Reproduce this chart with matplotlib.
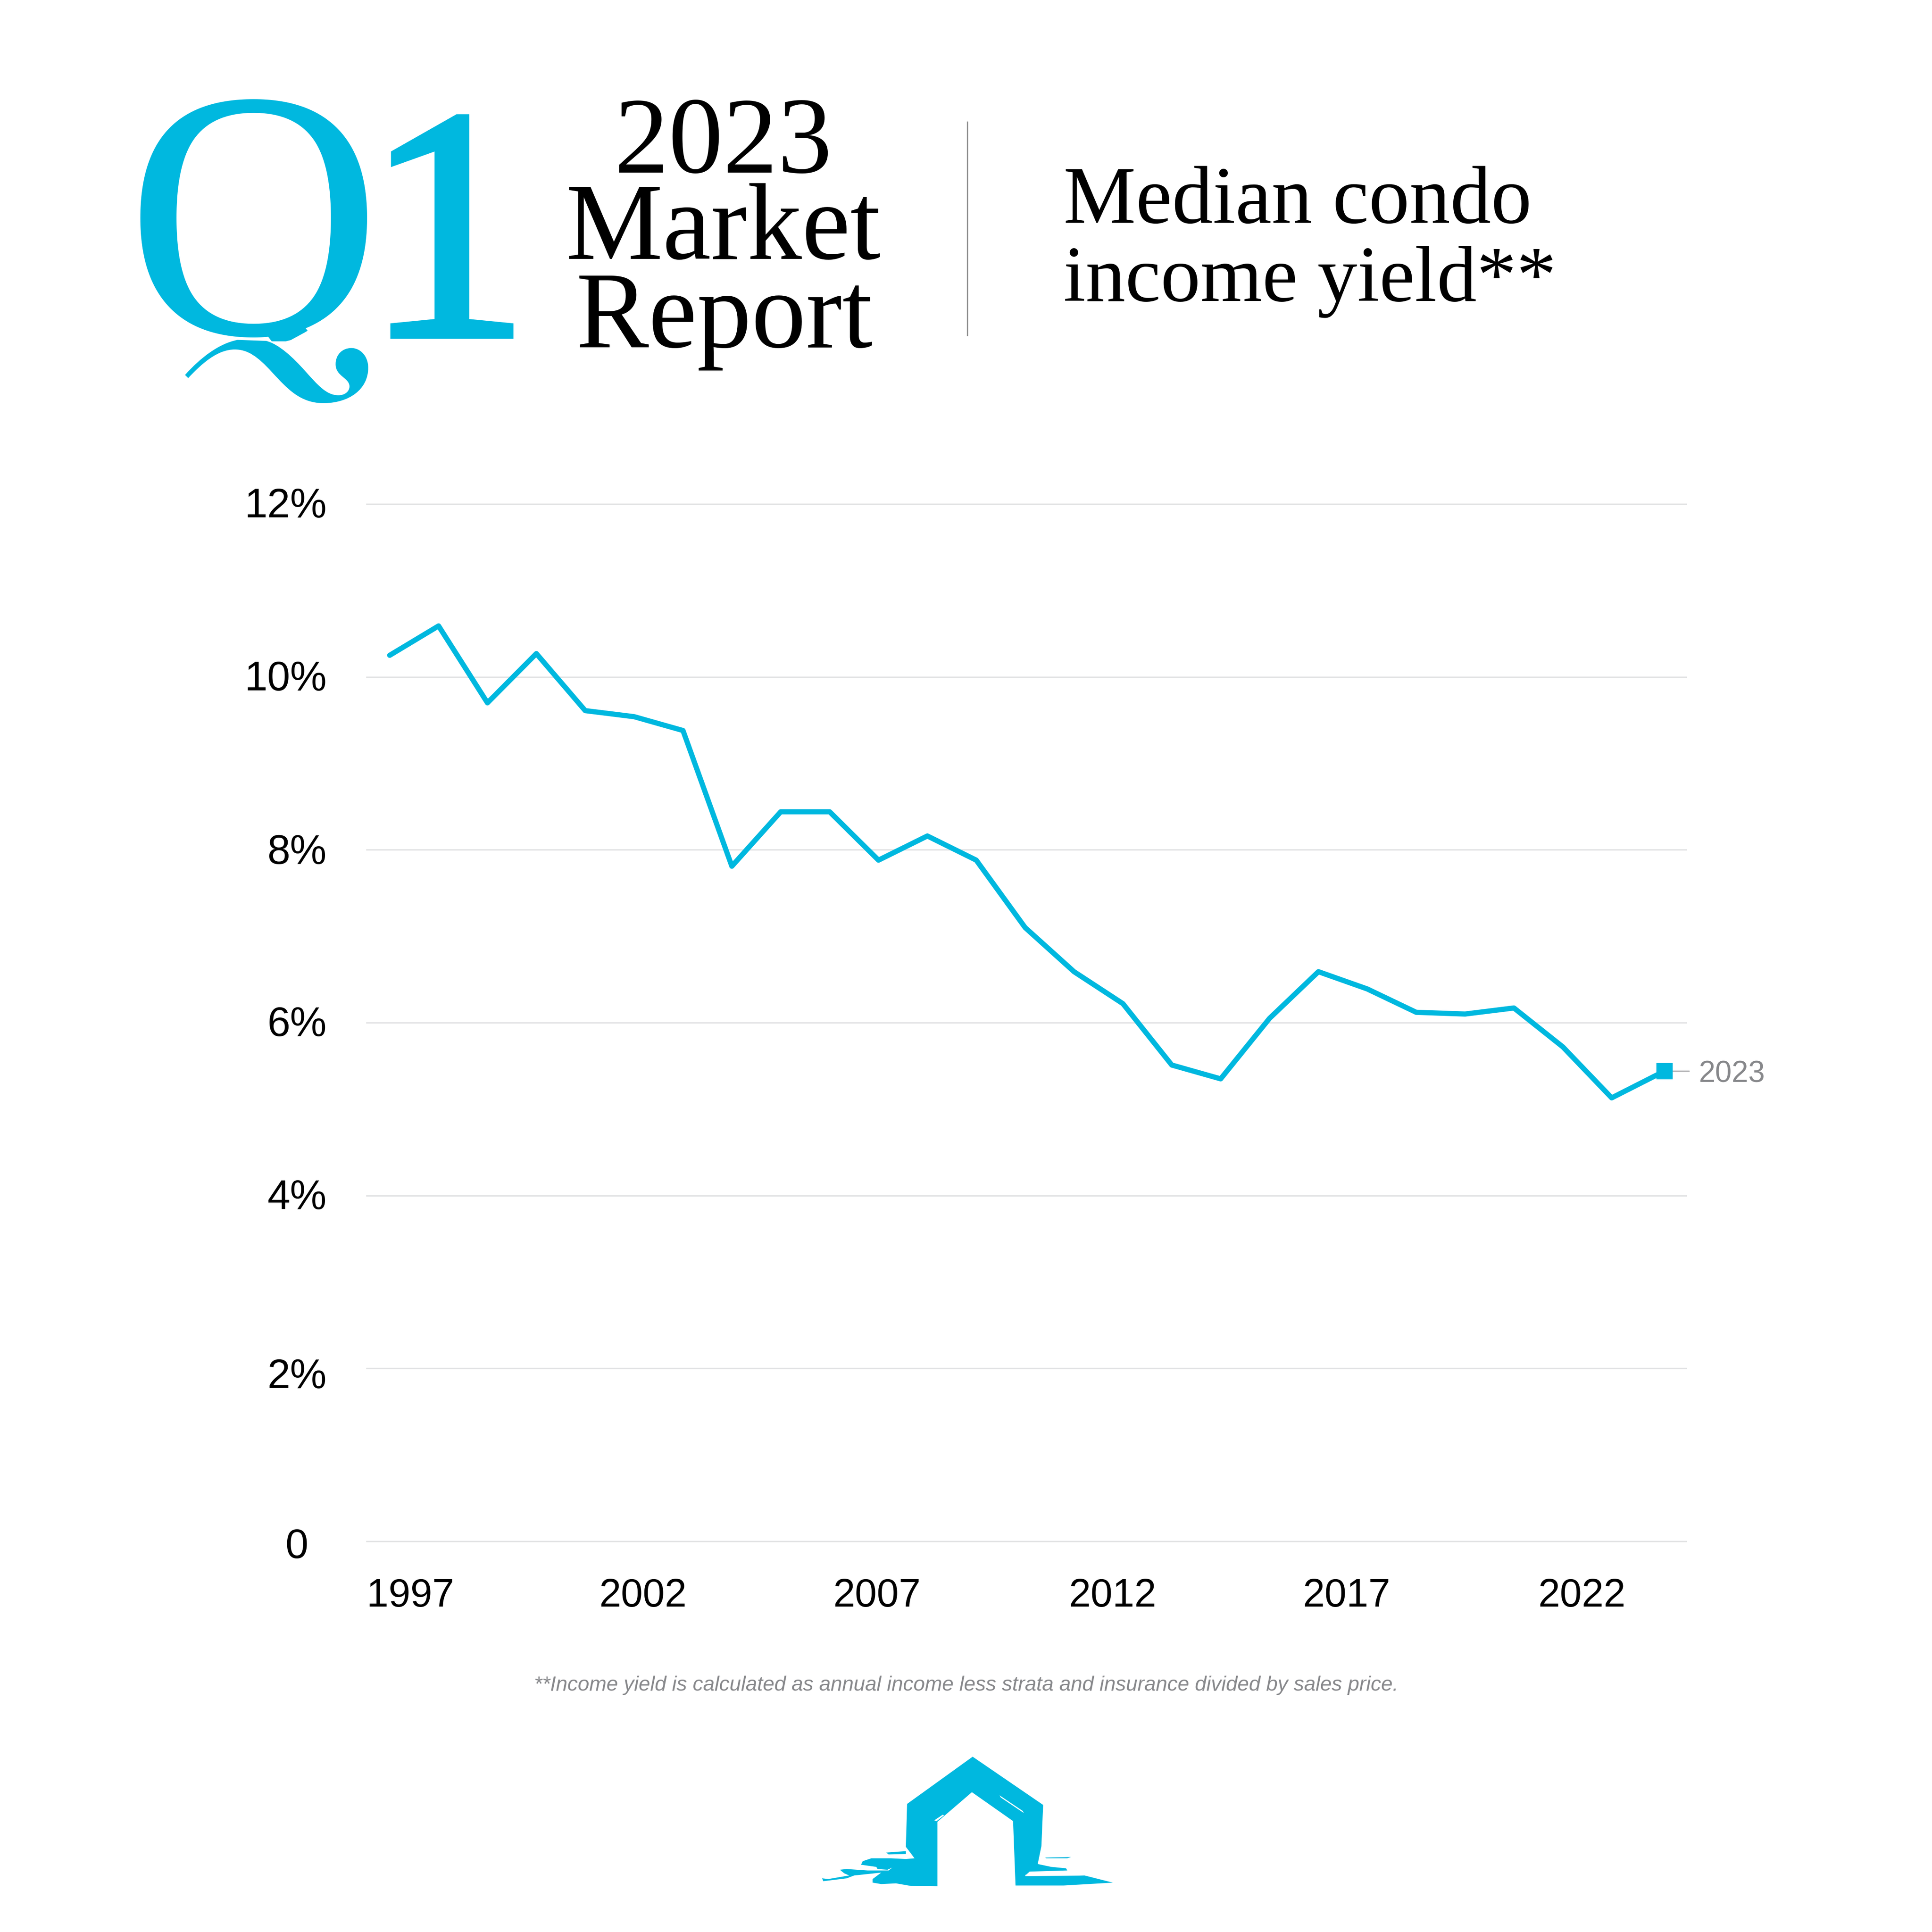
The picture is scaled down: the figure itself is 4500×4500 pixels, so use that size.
import numpy as np
import matplotlib
matplotlib.use("Agg")
import matplotlib.pyplot as plt
import matplotlib.patheffects as pe
from matplotlib.path import Path
from matplotlib.patches import PathPatch, Polygon
from matplotlib.transforms import Bbox, ScaledTranslation

years = list(range(1997, 2024))
income_yield = [10.25, 10.59, 9.70, 10.27, 9.61, 9.54, 9.38, 7.81, 8.44, 8.44,
                7.88, 8.16, 7.88, 7.10, 6.59, 6.22, 5.51, 5.35, 6.05, 6.59,
                6.39, 6.12, 6.10, 6.17, 5.72, 5.13, 5.44]
y_ticks = [0, 2, 4, 6, 8, 10, 12]
y_labels = ["0", "2%", "4%", "6%", "8%", "10%", "12%"]
x_tick_labels = ["1997", "2002", "2007", "2012", "2017", "2022"]
# the labels in the original do not sit quite under their years
x_tick_pos = [0.42, 5.18, 9.97, 14.79, 19.58, 24.39]

CYAN = "#00b8df"
GREY = "#87888b"
SANS = "Liberation Sans"
SERIF = "Liberation Serif"
S = 4500 / 1568  # layout is noted on a 1568 px wide view of the page

fig = plt.figure(figsize=(15, 15), dpi=300, facecolor="white")


def px(x0, y0, x1, y1):
    return [x0 / 4500, 1 - y1 / 4500, (x1 - x0) / 4500, (y1 - y0) / 4500]


# chart
ax = fig.add_axes(px(853.6, 1174, 3927, 3590))
x = np.arange(len(years), dtype=float)
x[-1] += 0.08  # end point sits a little right of the even spacing
ax.plot(x, income_yield, color=CYAN, lw=2.9, solid_joinstyle="round", solid_capstyle="round",
        zorder=3, clip_on=False)
ax.plot(x[-1], income_yield[-1], "s", color=CYAN, ms=9, mew=0, zorder=4, clip_on=False)
ax.set_xlim(-0.475, 26.52)
ax.set_ylim(0, 12)
ax.set_yticks(y_ticks)
ax.set_yticklabels(y_labels, fontsize=23, family=SANS, color="black")
ax.set_xticks(x_tick_pos)
ax.set_xticklabels(x_tick_labels, fontsize=22, family=SANS, color="black")
ax.tick_params(length=0)
ax.tick_params(axis="x", pad=20.5)
ax.tick_params(axis="y", pad=22.2)
for s in ax.spines.values():
    s.set_visible(False)
for v in y_ticks:
    ax.axhline(v, color="#e2e3e4", lw=0.8, zorder=1, clip_on=False)

# "0" sits further left, and a few labels are slightly off their gridlines
shifts = {0: (-10.5, -1), 2: (0, -2.5), 4: (0, 1), 6: (0, 1), 8: (0, 0.5), 10: (0, 1), 12: (0, 1)}
for i, v in enumerate(y_ticks):
    lab = ax.yaxis.get_major_ticks()[i].label1
    dx, dy = shifts[v]
    lab.set_transform(lab.get_transform() + ScaledTranslation(dx / 72, dy / 72, fig.dpi_scale_trans))

ax.annotate("2023", xy=(x[-1], income_yield[-1]), xytext=(19.0, -6.1), textcoords="offset points",
            ha="left", va="baseline", fontsize=16.7, family=SANS, color=GREY, annotation_clip=False)
ax.annotate("", xy=(x[-1], income_yield[-1]), xytext=(13.9, 0), textcoords="offset points",
            arrowprops=dict(arrowstyle="-", color=GREY, lw=0.5, shrinkA=0, shrinkB=0),
            annotation_clip=False, zorder=2)

# page furniture, drawn in view px
page = fig.add_axes([0, 0, 1, 1], zorder=5)
page.set_xlim(0, 1568)
page.set_ylim(1568, 0)
page.axis("off")
page.patch.set_alpha(0)

qt = page.text(205.6, 271, "Q", fontsize=198, family=SERIF, color=CYAN, ha="center", va="baseline")
qt.set_clip_on(True)
qt.set_clip_box(Bbox([[0, 4500 - 795], [4500, 4500]]))  # the font's own tail goes, see swash below
one = page.text(363, 272, "1", fontsize=184, family=SERIF, color=CYAN, ha="center", va="baseline")
one.set_path_effects([pe.withStroke(linewidth=4, foreground=CYAN, joinstyle="miter")])

# hide what is left of the font's tail
page.add_patch(Polygon([(224, 279), (236, 276), (247, 270), (258, 263.5), (266, 282), (224, 282)],
                       fc="white", ec="none", zorder=3))

tail_pts = [(93, 820),
            (200, 700), (330, 600), (460, 575),
            (660, 582),
            (750, 605), (850, 700), (930, 790),
            (1020, 890), (1080, 962), (1165, 962),
            (1210, 962), (1242, 935), (1242, 900),
            (1242, 840), (1145, 830), (1145, 745),
            (1145, 680), (1190, 632), (1255, 632),
            (1320, 632), (1373, 690), (1373, 770),
            (1373, 920), (1240, 1017), (1060, 1017),
            (900, 1017), (810, 920), (700, 800),
            (600, 690), (530, 642), (440, 642),
            (320, 642), (210, 740), (115, 842),
            (93, 820)]
tail_codes = ([Path.MOVETO] + [Path.CURVE4] * 3 + [Path.LINETO] + [Path.CURVE4] * 30 + [Path.CLOSEPOLY])
tail = Path([((400 + a / 3) / S, (600 + b / 3) / S) for a, b in tail_pts], tail_codes)
page.add_patch(PathPatch(tail, fc=CYAN, ec="none", zorder=4))

page.text(587, 140, "2023", fontsize=61, family=SERIF, color="black", ha="center", va="baseline")
page.text(587, 210, "Market", fontsize=61, family=SERIF, color="black", ha="center", va="baseline")
page.text(588, 282, "Report", fontsize=61, family=SERIF, color="black", ha="center", va="baseline")
page.plot([785, 785], [99, 272], color="#8f8f8f", lw=0.7)
page.text(863, 181, "Median condo", fontsize=45.5, family=SERIF, color="black", ha="left", va="baseline")
page.text(863, 244, "income yield**", fontsize=44.5, family=SERIF, color="black", ha="left", va="baseline")

page.text(784, 1372, "**Income yield is calculated as annual income less strata and insurance divided by sales price.",
          fontsize=11.55, family=SANS, style="italic", color=GREY, ha="center", va="baseline")

logo_main = [(811, 275), (1097, 612), (1090, 900), (1075, 1025), (1130, 1045), (1190, 1055), (1195, 1070),
             (1042, 1078), (1025, 1105), (1265, 1105), (1380, 1155), (1180, 1175), (985, 1175), (975, 725),
             (808, 523), (668, 730), (668, 1180), (560, 1178), (500, 1160), (440, 1165), (405, 1155), (405, 1130),
             (440, 1085), (330, 1105), (300, 1125), (205, 1145), (200, 1125), (225, 1130), (310, 1105), (290, 1090),
             (272, 1065), (300, 1060), (385, 1070), (470, 1070), (485, 1050), (465, 1065), (425, 1060), (420, 1045),
             (358, 1030), (365, 1005), (400, 985), (480, 985), (540, 990), (575, 985), (560, 950), (540, 905),
             (545, 605)]
logo_bits = [[(1105, 980), (1210, 976), (1195, 985), (1110, 985)],
             [(460, 945), (540, 935), (540, 955), (470, 958)]]
logo_cuts = [[(920, 545), (1015, 655), (1018, 668), (925, 560)],
             [(1025, 1100), (1120, 1098), (1265, 1105), (1025, 1110)],
             [(655, 720), (690, 680), (695, 685), (665, 725)]]


def to_page(pts):
    return [((1800 + a * 900 / 1568) / S, (4000 + b / 3) / S) for a, b in pts]


page.add_patch(Polygon(to_page(logo_main), fc=CYAN, ec="none"))
for p in logo_bits:
    page.add_patch(Polygon(to_page(p), fc=CYAN, ec="none"))
for p in logo_cuts:
    page.add_patch(Polygon(to_page(p), fc="white", ec="none"))

fig.savefig("out.png", dpi=300, facecolor="white")
